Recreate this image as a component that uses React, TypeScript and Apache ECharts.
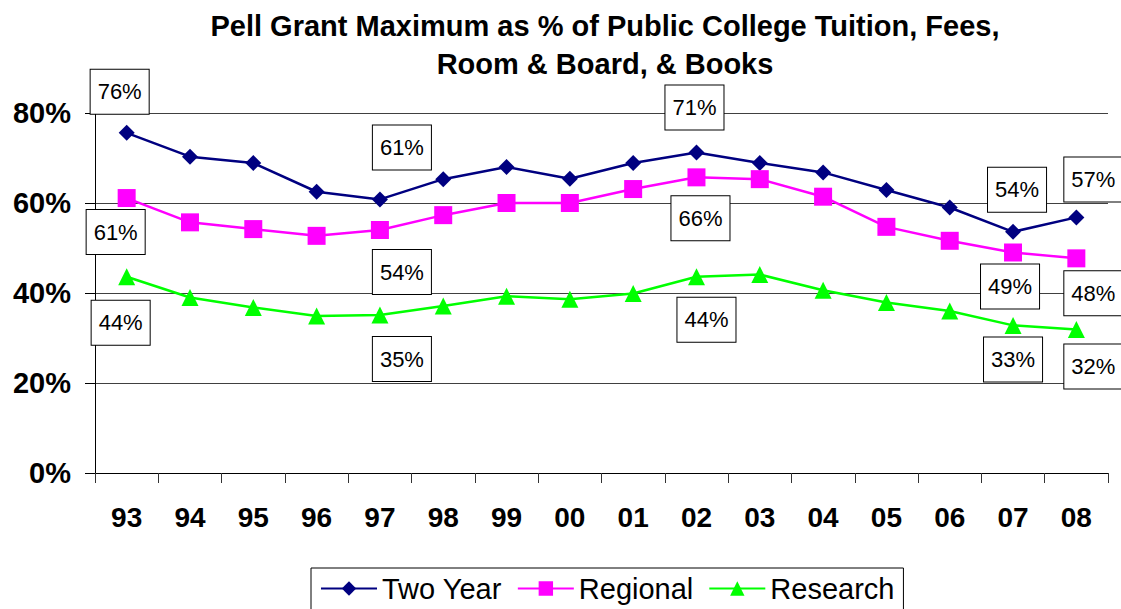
import React, { useEffect, useRef } from "react";
import * as echarts from "echarts";

const categories = ["93", "94", "95", "96", "97", "98", "99", "00", "01", "02", "03", "04", "05", "06", "07", "08"];
const twoYear = [75.6, 70.3, 68.9, 62.5, 60.8, 65.3, 68.0, 65.4, 68.9, 71.2, 68.9, 66.8, 62.9, 59.0, 53.6, 56.8];
const regional = [61.1, 55.7, 54.2, 52.7, 54.0, 57.3, 60.0, 60.0, 63.1, 65.7, 65.3, 61.4, 54.7, 51.6, 49.0, 47.7];
const research = [43.6, 39.0, 36.8, 34.9, 35.1, 37.1, 39.3, 38.6, 39.9, 43.6, 44.1, 40.6, 37.9, 36.0, 32.8, 31.9];
const yTicks = [0, 20, 40, 60, 80];

// label offsets (in px, relative to the marker) for the labelled points
const twoYearLabels: Record<number, [number, number]> = { 0: [-7, -41], 4: [22, -52], 9: [-2, -45], 14: [4, -42], 15: [17, -38] };
const regionalLabels: Record<number, [number, number]> = { 0: [-11, 34], 4: [22, 42], 9: [4, 41], 14: [-3, 34], 15: [17, 35] };
const researchLabels: Record<number, [number, number]> = { 0: [-6, 46], 4: [22, 44], 9: [10, 43], 14: [0, 34], 15: [17, 37] };

const FONT = "'Liberation Sans', Arial, sans-serif";

function buildData(values: number[], labels: Record<number, [number, number]>) {
  return values.map((v, i) => {
    const off = labels[i];
    if (!off) return v;
    return {
      value: v,
      label: {
        show: true,
        position: "inside",
        offset: off,
        formatter: (p: any) => Math.round(p.value) + "%",
        fontFamily: FONT,
        fontSize: 22,
        color: "#000",
        backgroundColor: "#fff",
        borderColor: "#000",
        borderWidth: 1,
        lineHeight: 24,
        padding: [10, 7, 10, 7],
      },
    };
  });
}

export default function App() {
  const ref = useRef<HTMLDivElement>(null);
  useEffect(() => {
    if (!ref.current) return;
    const chart = echarts.init(ref.current, null, { renderer: "svg" });
    const option: any = {
      animation: false,
      backgroundColor: "#fff",
      textStyle: { fontFamily: FONT },
      title: {
        text: "Pell Grant Maximum as % of Public College Tuition, Fees,\nRoom & Board, & Books",
        left: 605,
        textAlign: "center",
        top: 7,
        padding: 0,
        textStyle: { fontFamily: FONT, fontSize: 29, fontWeight: "bold", color: "#000", lineHeight: 38 },
      },
      grid: { left: 95, right: 13, top: 113, bottom: 136, containLabel: false },
      legend: {
        left: 311,
        top: 568,
        padding: [6, 9, 20, 9],
        borderColor: "#000",
        borderWidth: 1,
        itemWidth: 56,
        itemHeight: 18,
        itemGap: 15,
        textStyle: { fontFamily: FONT, fontSize: 29, color: "#000" },
        data: ["Two Year", "Regional", "Research"],
      },
      xAxis: {
        type: "category",
        data: categories,
        boundaryGap: true,
        axisLine: { lineStyle: { color: "#000", width: 1 } },
        axisTick: { show: true, length: 10, alignWithLabel: false, lineStyle: { color: "#333" } },
        axisLabel: { fontFamily: FONT, fontSize: 28, fontWeight: "bold", color: "#000", margin: 30 },
        splitLine: { show: false },
      },
      yAxis: {
        type: "value",
        min: yTicks[0],
        max: yTicks[yTicks.length - 1],
        interval: 20,
        axisLine: { show: true, lineStyle: { color: "#000", width: 1 } },
        axisTick: { show: true, length: 10, lineStyle: { color: "#000" } },
        axisLabel: { fontFamily: FONT, fontSize: 29, fontWeight: "bold", color: "#000", margin: 24, formatter: "{value}%" },
        splitLine: { show: true, lineStyle: { color: "#404040", width: 1 } },
      },
      series: [
        {
          name: "Two Year",
          type: "line",
          data: buildData(twoYear, twoYearLabels),
          symbol: "diamond",
          symbolSize: 16,
          color: "#000080",
          lineStyle: { color: "#000080", width: 2.5 },
          itemStyle: { color: "#000080" },
          z: 3,
        },
        {
          name: "Regional",
          type: "line",
          data: buildData(regional, regionalLabels),
          symbol: "rect",
          symbolSize: 18,
          color: "#FF00FF",
          lineStyle: { color: "#FF00FF", width: 2.5 },
          itemStyle: { color: "#FF00FF" },
          z: 3,
        },
        {
          name: "Research",
          type: "line",
          data: buildData(research, researchLabels),
          symbol: "triangle",
          symbolSize: 17,
          color: "#00FF00",
          lineStyle: { color: "#00FF00", width: 2.5 },
          itemStyle: { color: "#00FF00" },
          z: 3,
        },
      ],
    };
    chart.setOption(option);
    return () => chart.dispose();
  }, []);
  return <div ref={ref} style={{ position: "absolute", left: 0, top: 0, width: 1121, height: 609 }} />;
}
